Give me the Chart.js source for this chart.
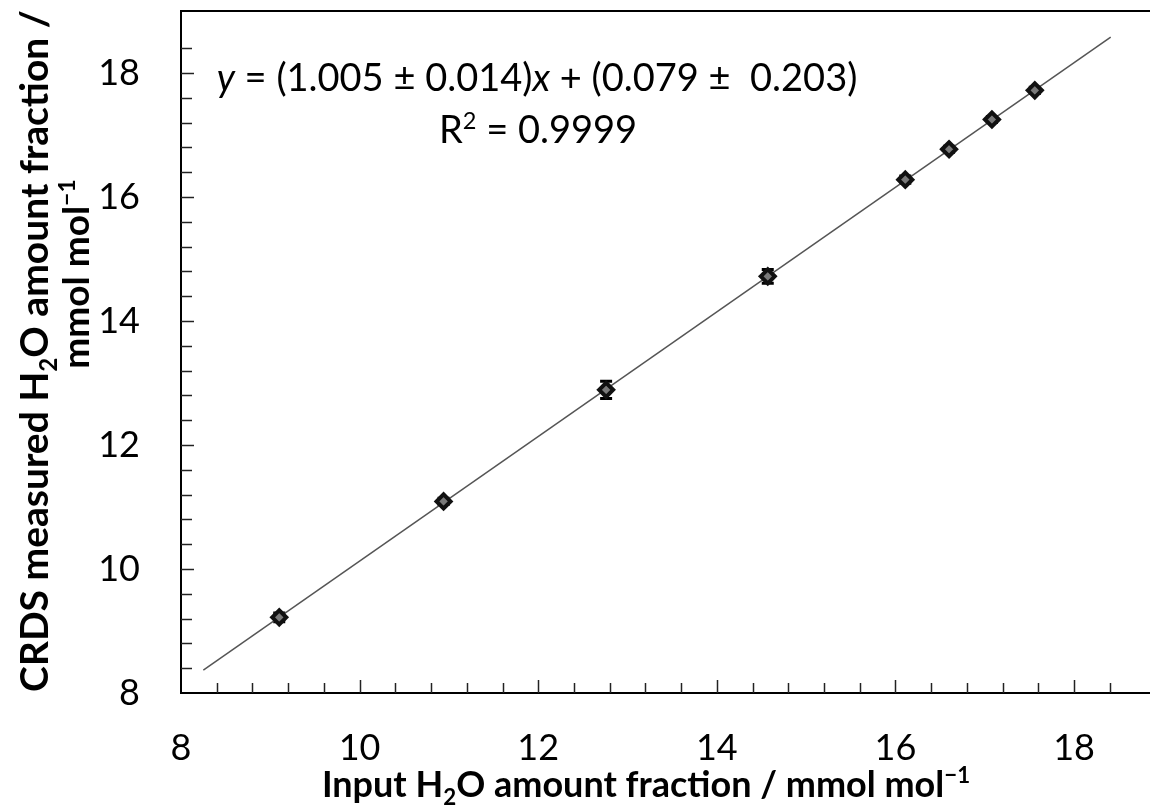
<!DOCTYPE html>
<html>
<head>
<meta charset="utf-8">
<script src="https://cdn.jsdelivr.net/npm/chart.js@4/dist/chart.umd.min.js"></script>
<style>
  html, body { margin: 0; padding: 0; background: #fff; }
  #wrap { width: 1150px; height: 807px; }
</style>
</head>
<body>
<div id="wrap"><canvas id="calib" width="1150" height="807"></canvas></div>
<script>
// input vs CRDS measured water amount fraction (mmol/mol)
const inputX = [9.10, 10.94, 12.76, 14.57, 16.11, 16.60, 17.08, 17.56];
const measuredY = [9.22, 11.09, 12.89, 14.72, 16.28, 16.77, 17.25, 17.72];
const measuredErr = [0.07, 0.05, 0.14, 0.11, 0.06, 0.05, 0.05, 0.05];

// fitted line ends, as drawn
const fitX = [8.25, 18.41];
const fitY = [8.37, 18.58];

const xLimits = [8, 18.85];
const yLimits = [8, 19];
const minorStep = 0.4;
const labelStep = 2;

const FONT = 'Lato, "Open Sans", sans-serif';

function isLabelTick(v) {
  const q = v / labelStep;
  return Math.abs(q - Math.round(q)) < 1e-6;
}
function onStep(v, min) {
  const q = (v - min) / minorStep;
  return Math.abs(q - Math.round(q)) < 1e-6;
}

// draw a run of text parts with sub/superscripts, centred on cx
function drawRich(ctx, parts, cx, baseY, size, weight, angle) {
  const runs = parts.map(p => {
    const s = (p.sub || p.sup) ? size * 0.62 : size;
    const font = (p.italic ? 'italic ' : '') + weight + ' ' + s + 'px ' + FONT;
    ctx.font = font;
    return { p, font, w: ctx.measureText(p.t).width };
  });
  const total = runs.reduce((a, r) => a + r.w, 0);
  ctx.save();
  ctx.translate(cx, baseY);
  if (angle) ctx.rotate(angle);
  ctx.fillStyle = '#000';
  ctx.textBaseline = 'alphabetic';
  ctx.textAlign = 'left';
  let x = -total / 2;
  runs.forEach(r => {
    ctx.font = r.font;
    let dy = 0;
    if (r.p.sub) dy = size * 0.22;
    if (r.p.sup) dy = -size * 0.38;
    ctx.fillText(r.p.t, x, dy);
    x += r.w;
  });
  ctx.restore();
}

const errorBars = {
  id: 'errorBars',
  beforeDatasetsDraw(chart) {
    const ctx = chart.ctx;
    const meta = chart.getDatasetMeta(0);
    const ys = chart.scales.y;
    ctx.save();
    ctx.strokeStyle = '#000';
    ctx.lineWidth = 3;
    meta.data.forEach((pt, i) => {
      const top = ys.getPixelForValue(measuredY[i] + measuredErr[i]);
      const bot = ys.getPixelForValue(measuredY[i] - measuredErr[i]);
      ctx.beginPath();
      ctx.moveTo(pt.x, top); ctx.lineTo(pt.x, bot);
      ctx.moveTo(pt.x - 6, top); ctx.lineTo(pt.x + 6, top);
      ctx.moveTo(pt.x - 6, bot); ctx.lineTo(pt.x + 6, bot);
      ctx.stroke();
    });
    ctx.restore();
  }
};

const frameAndText = {
  id: 'frameAndText',
  afterDraw(chart) {
    const ctx = chart.ctx;
    const area = chart.chartArea;
    const xs = chart.scales.x, ys = chart.scales.y;
    ctx.save();
    ctx.strokeStyle = '#000';
    ctx.lineWidth = 2;
    // top frame line
    ctx.beginPath();
    ctx.moveTo(area.left, area.top);
    ctx.lineTo(area.right, area.top);
    ctx.stroke();
    // inward ticks
    ctx.lineWidth = 1.5;
    ctx.strokeStyle = '#222';
    xs.ticks.forEach(t => {
      if (t.value <= xLimits[0] || !onStep(t.value, xLimits[0])) return;
      const px = Math.round(xs.getPixelForValue(t.value)) + 0.5;
      const len = isLabelTick(t.value) ? 13 : 10;
      ctx.beginPath();
      ctx.moveTo(px, area.bottom);
      ctx.lineTo(px, area.bottom - len);
      ctx.stroke();
    });
    ys.ticks.forEach(t => {
      if (t.value <= yLimits[0] || !onStep(t.value, yLimits[0])) return;
      const py = Math.round(ys.getPixelForValue(t.value)) + 0.5;
      const len = isLabelTick(t.value) ? 13 : 11;
      ctx.beginPath();
      ctx.moveTo(area.left, py);
      ctx.lineTo(area.left + len, py);
      ctx.stroke();
    });
    ctx.restore();

    // fit equation
    drawRich(ctx, [
      { t: 'y', italic: true }, { t: ' = (1.005 ± 0.014)' }, { t: 'x', italic: true },
      { t: ' + (0.079 ±  0.203)' }
    ], 537, 91, 38, 'normal');
    drawRich(ctx, [{ t: 'R' }, { t: '2', sup: true }, { t: ' = 0.9999' }], 538, 143, 38, 'normal');

    // axis titles
    drawRich(ctx, [
      { t: 'Input H' }, { t: '2', sub: true }, { t: 'O amount fraction / mmol mol' }, { t: '−1', sup: true }
    ], 646, 797, 36, 'bold');
    drawRich(ctx, [
      { t: 'CRDS measured H' }, { t: '2', sub: true }, { t: 'O amount fraction /' }
    ], 48, 351, 39, 'bold', -Math.PI / 2);
    drawRich(ctx, [{ t: 'mmol mol' }, { t: '−1', sup: true }], 89, 274, 37, 'bold', -Math.PI / 2);
  }
};

function noScalePadding(s) {
  s.paddingTop = 0; s.paddingBottom = 0; s.paddingLeft = 0; s.paddingRight = 0;
}

const ctx = document.getElementById('calib').getContext('2d');
new Chart(ctx, {
  type: 'scatter',
  data: {
    datasets: [
      {
        label: 'CRDS',
        data: inputX.map((x, i) => ({ x, y: measuredY[i] })),
        pointStyle: 'rectRot',
        pointRadius: 7,
        pointBorderWidth: 4,
        pointBackgroundColor: '#7a7a7a',
        pointBorderColor: '#111',
        order: 0
      },
      {
        label: 'fit',
        type: 'line',
        data: fitX.map((x, i) => ({ x, y: fitY[i] })),
        borderColor: '#555',
        borderWidth: 1.5,
        pointRadius: 0,
        fill: false,
        order: 1
      }
    ]
  },
  options: {
    responsive: false,
    animation: false,
    devicePixelRatio: 1,
    layout: { autoPadding: false, padding: { top: 11, right: 0, left: 0, bottom: 0 } },
    plugins: {
      legend: { display: false },
      tooltip: { enabled: false }
    },
    scales: {
      x: {
        type: 'linear',
        min: xLimits[0],
        max: xLimits[1],
        grid: { display: false, drawTicks: false },
        border: { display: true, color: '#000', width: 2 },
        ticks: {
          stepSize: minorStep,
          autoSkip: false,
          maxRotation: 0,
          padding: 34,
          color: '#000',
          font: { family: FONT, size: 36 },
          callback: v => isLabelTick(v) ? String(Math.round(v)) : ''
        },
        afterFit: s => { s.height = 114; noScalePadding(s); }
      },
      y: {
        type: 'linear',
        min: yLimits[0],
        max: yLimits[1],
        grid: { display: false, drawTicks: false },
        border: { display: true, color: '#000', width: 2 },
        ticks: {
          stepSize: minorStep,
          autoSkip: false,
          padding: 41,
          color: '#000',
          font: { family: FONT, size: 36 },
          callback: v => isLabelTick(v) ? String(Math.round(v)) : ''
        },
        afterFit: s => { s.width = 181; noScalePadding(s); }
      }
    }
  },
  plugins: [errorBars, frameAndText]
});
</script>
</body>
</html>
